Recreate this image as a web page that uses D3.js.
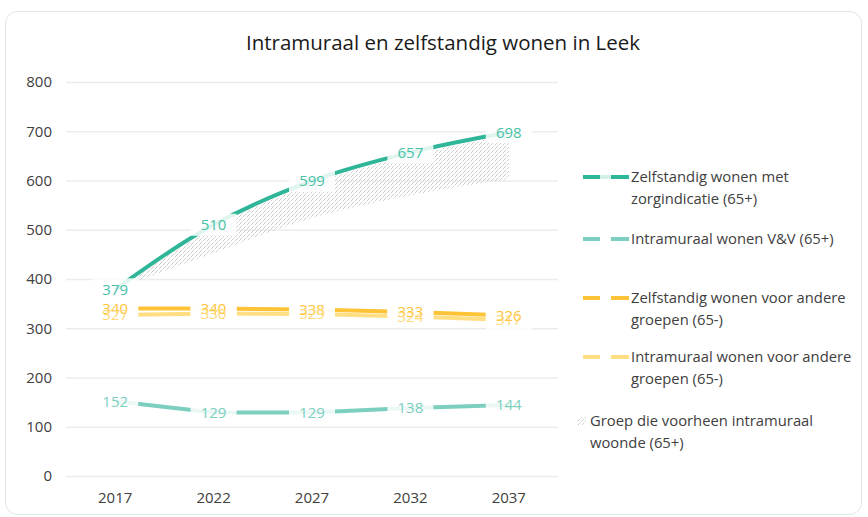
<!DOCTYPE html>
<html>
<head>
<meta charset="utf-8">
<script src="https://cdn.jsdelivr.net/npm/d3@7"></script>
<style>
	body { margin: 0; background: #fff; }
	text { font-family: "Open Sans", sans-serif; }
</style>
</head>
<body>
<div id="chart"></div>
<script>
//data of the chart
const years = ["2017", "2022", "2027", "2032", "2037"];
const zelfstandigZorg = [379, 510, 599, 657, 698];
const intramuraalVV = [152, 129, 129, 138, 144];
const zelfstandigAndere = [340, 340, 338, 333, 326];
const intramuraalAndere = [327, 330, 329, 324, 317];
//size of the group that used to live intramural, hatched below the top line
const voorheenIntramuraal = [0, 57, 75, 87, 95];
const yTicks = [0, 100, 200, 300, 400, 500, 600, 700, 800];

const seriesNames = [
	["Zelfstandig wonen met", "zorgindicatie (65+)"],
	["Intramuraal wonen V&V (65+)"],
	["Zelfstandig wonen voor andere", "groepen (65-)"],
	["Intramuraal wonen voor andere", "groepen (65-)"]
];
const hatchName = ["Groep die voorheen intramuraal", "woonde (65+)"];
const title = "Intramuraal en zelfstandig wonen in Leek";

const width = 868, height = 517;
const colors = ["#2fb597", "#7ccfbe", "#fec336", "#ffde84"];
const labelColors = ["#45c2a6", "#7ccfbe", "#fec336", "#ffd97a"];

const svg = d3.select("#chart").append("svg")
	.attr("width", width)
	.attr("height", height);

//outer frame of the chart
svg.append("rect")
	.attr("x", 5.5).attr("y", 11.5)
	.attr("width", 856).attr("height", 503)
	.attr("rx", 12)
	.attr("fill", "#fff")
	.attr("stroke", "#e4e4e4");

svg.append("text")
	.attr("x", 443).attr("y", 50)
	.attr("text-anchor", "middle")
	.attr("font-size", 20.5)
	.attr("fill", "#1a1a1a")
	.text(title);

const x = d3.scaleBand().domain(years).range([66, 558]);
const y = d3.scaleLinear().domain([0, 800]).range([476, 82]);
const cx = d => x(d) + x.bandwidth() / 2;

//hatch pattern for the area
const pattern = svg.append("defs").append("pattern")
	.attr("id", "hatch")
	.attr("patternUnits", "userSpaceOnUse")
	.attr("width", 4).attr("height", 4);
pattern.append("path")
	.attr("d", "M-1,1 l2,-2 M0,4 l4,-4 M3,5 l2,-2")
	.attr("stroke", "#b4b4b4")
	.attr("stroke-width", 0.7)
	.attr("stroke-dasharray", "3,1");

//gridlines and y axis
const yAxis = svg.append("g")
	.attr("transform", "translate(66,0)")
	.call(d3.axisLeft(y).tickValues(yTicks).tickSize(-492).tickPadding(14));
yAxis.select(".domain").remove();
yAxis.selectAll("line").attr("stroke", "#ececec").attr("stroke-width", 1.3);
yAxis.selectAll("text").attr("font-size", 15).attr("fill", "#404040");

const xAxis = svg.append("g")
	.attr("transform", "translate(0,476)")
	.call(d3.axisBottom(x).tickSize(0).tickPadding(16));
xAxis.select(".domain").remove();
xAxis.selectAll("text").attr("font-size", 15).attr("fill", "#404040");

//hatched area
const area = d3.area()
	.x((d, i) => cx(years[i]))
	.y0((d, i) => y(zelfstandigZorg[i] - d))
	.y1((d, i) => y(zelfstandigZorg[i]) + 3)
	.curve(d3.curveMonotoneX);
svg.append("path")
	.datum(voorheenIntramuraal)
	.attr("d", area)
	.attr("fill", "url(#hatch)");

//lines
const allSeries = [zelfstandigZorg, intramuraalVV, zelfstandigAndere, intramuraalAndere];
const curves = [d3.curveMonotoneX, d3.curveLinear, d3.curveLinear, d3.curveLinear];
allSeries.forEach(function(values, s){
	const line = d3.line()
		.x((d, i) => cx(years[i]))
		.y(d => y(d))
		.curve(curves[s]);
	svg.append("path")
		.datum(values)
		.attr("d", line)
		.attr("fill", "none")
		.attr("stroke", colors[s])
		.attr("stroke-width", 4);
});

//data labels: first the see-through white boxes, then all texts on top
const labelData = [];
allSeries.forEach(function(values, s){
	values.forEach(function(v, i){
		labelData.push({s: s, year: years[i], value: v});
	});
});
svg.append("g").selectAll("rect")
	.data(labelData)
	.enter()
	.append("rect")
	.attr("x", d => cx(d.year) - 23)
	.attr("y", d => y(d.value) - 11)
	.attr("width", 46).attr("height", 22)
	.attr("fill", "#fff")
	.attr("opacity", 0.85);
svg.append("g").selectAll("text")
	.data(labelData)
	.enter()
	.append("text")
	.attr("x", d => cx(d.year))
	.attr("y", d => y(d.value))
	.attr("text-anchor", "middle")
	.attr("dy", "0.36em")
	.attr("font-size", 15)
	.attr("fill", d => labelColors[d.s])
	.text(d => d.value);

//legend
const legendY = [177, 239, 298, 357];
const legend = svg.append("g");
seriesNames.forEach(function(lines, s){
	const g = legend.append("g").attr("transform", "translate(583," + legendY[s] + ")");
	g.append("line").attr("x1", 0).attr("x2", 17)
		.attr("stroke", colors[s]).attr("stroke-width", 4);
	g.append("line").attr("x1", 17).attr("x2", 28)
		.attr("stroke", s == 0 ? "#d3efe8" : "#fff").attr("stroke-width", 4);
	g.append("line").attr("x1", 28).attr("x2", 46)
		.attr("stroke", colors[s]).attr("stroke-width", 4);
	g.selectAll("text")
		.data(lines)
		.enter()
		.append("text")
		.attr("x", 48)
		.attr("y", (d, i) => i * 22)
		.attr("dy", "0.35em")
		.attr("font-size", 14.8)
		.attr("fill", "#404040")
		.text(d => d);
});

const hatchLegend = legend.append("g").attr("transform", "translate(578,421)");
hatchLegend.append("rect")
	.attr("x", 0).attr("y", -4)
	.attr("width", 8).attr("height", 8)
	.attr("fill", "url(#hatch)");
hatchLegend.selectAll("text")
	.data(hatchName)
	.enter()
	.append("text")
	.attr("x", 12)
	.attr("y", (d, i) => i * 22)
	.attr("dy", "0.35em")
	.attr("font-size", 14.8)
	.attr("fill", "#404040")
	.text(d => d);
</script>
</body>
</html>
